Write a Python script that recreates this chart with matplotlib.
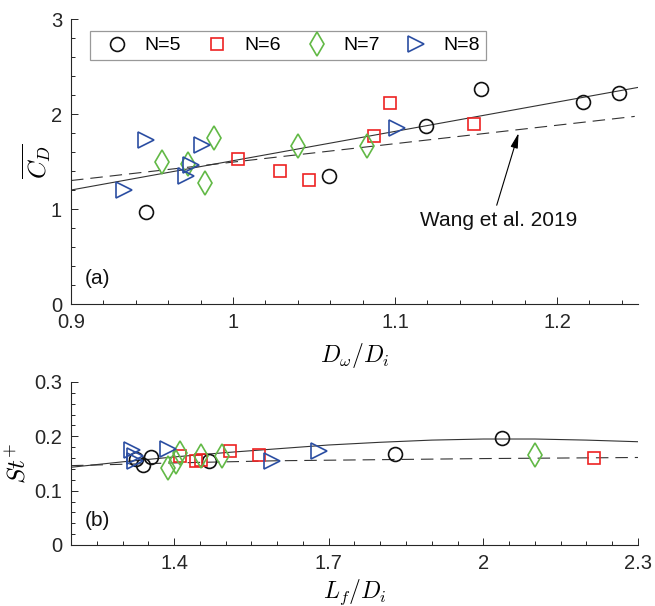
import matplotlib
matplotlib.use('Agg')
import matplotlib.pyplot as plt
from matplotlib import ticker

plt.rcParams['font.family'] = ['Liberation Sans', 'DejaVu Sans']
plt.rcParams['mathtext.fontset'] = 'cm'
plt.rcParams['lines.scale_dashes'] = False

## data, panel (a): D_w/D_i vs mean C_D
dw_n5 = [0.946, 1.059, 1.119, 1.153, 1.216, 1.238]
cd_n5 = [0.965, 1.347, 1.870, 2.263, 2.124, 2.219]
dw_n6 = [1.003, 1.029, 1.047, 1.087, 1.097, 1.149]
cd_n6 = [1.524, 1.396, 1.309, 1.764, 2.120, 1.895]
dw_n7 = [0.956, 0.972, 0.983, 0.988, 1.040, 1.083]
cd_n7 = [1.491, 1.475, 1.272, 1.745, 1.660, 1.665]
dw_n8 = [0.933, 0.946, 0.971, 0.974, 0.981, 1.101]
cd_n8 = [1.196, 1.726, 1.349, 1.460, 1.678, 1.853]

fit_a_x = [0.9, 1.25]
fit_a_y = [1.20, 2.28]
wang_a_x = [0.9, 1.248]
wang_a_y = [1.30, 1.975]

## data, panel (b): L_f/D_i vs St+
lf_n5 = [1.326, 1.340, 1.356, 1.468, 1.828, 2.037]
st_n5 = [0.158, 0.147, 0.162, 0.155, 0.168, 0.197]
lf_n6 = [1.412, 1.443, 1.452, 1.508, 1.564, 2.214]
st_n6 = [0.164, 0.155, 0.156, 0.173, 0.165, 0.160]
lf_n7 = [1.388, 1.404, 1.412, 1.453, 1.492, 2.101]
st_n7 = [0.141, 0.152, 0.170, 0.164, 0.163, 0.165]
lf_n8 = [1.319, 1.324, 1.325, 1.389, 1.590, 1.682]
st_n8 = [0.175, 0.163, 0.154, 0.177, 0.154, 0.173]

fit_b_x = [1.2, 1.3, 1.4, 1.5, 1.6, 1.7, 1.8, 1.9, 2.0, 2.1, 2.2, 2.3]
fit_b_y = [0.143, 0.153, 0.162, 0.170, 0.177, 0.184, 0.189, 0.193, 0.195, 0.195, 0.193, 0.190]
wang_b_x = [1.2, 1.4, 1.6, 1.8, 2.0, 2.3]
wang_b_y = [0.146, 0.151, 0.155, 0.157, 0.159, 0.161]

labels = ['N=5', 'N=6', 'N=7', 'N=8']
colors = ['#111111', '#ee2222', '#62b946', '#2b4ea2']
markers = ['o', 's', 'd', '>']
msizes = [10, 8, 12, 11]

axcol = '#262626'


def style_axis(ax):
    for s in ['top', 'right']:
        ax.spines[s].set_visible(False)
    for s in ['left', 'bottom']:
        ax.spines[s].set_color(axcol)
        ax.spines[s].set_linewidth(0.8)
    ax.tick_params(which='both', direction='in', colors=axcol, labelsize=14.5, width=0.7, pad=6.5)
    ax.tick_params(which='major', length=5)
    ax.tick_params(which='minor', length=3)
    ax.xaxis.set_major_formatter(ticker.FormatStrFormatter('%g'))
    ax.yaxis.set_major_formatter(ticker.FormatStrFormatter('%g'))


fig = plt.figure(figsize=(6.55, 6.06), dpi=100)
ax1 = fig.add_axes([0.1084, 0.4983, 0.8656, 0.4703])
ax2 = fig.add_axes([0.1084, 0.1007, 0.8656, 0.2690])

# panel (a)
ax1.plot(fit_a_x, fit_a_y, '-', color='#333333', lw=0.8)
ax1.plot(wang_a_x, wang_a_y, color='#333333', lw=0.8, dashes=(9, 5))
sets_a = [(dw_n5, cd_n5), (dw_n6, cd_n6), (dw_n7, cd_n7), (dw_n8, cd_n8)]
for (x, y), lab, c, m, ms in zip(sets_a, labels, colors, markers, msizes):
    ax1.plot(x, y, ls='none', marker=m, ms=ms, mfc='none', mec=c, mew=1.2, label=lab)

ax1.annotate('', xy=(1.1763, 1.80), xytext=(1.1628, 1.04),
             arrowprops=dict(arrowstyle='-|>,head_length=0.9,head_width=0.22',
                             color='k', lw=0.8, shrinkA=0, shrinkB=0))
ax1.text(1.164, 0.88, 'Wang et al. 2019', ha='center', va='center', fontsize=15, color='#111111')
ax1.text(0.024, 0.09, '(a)', transform=ax1.transAxes, fontsize=15, color='#111111', va='center')

ax1.set_xlim(0.9, 1.25)
ax1.set_ylim(0, 3)
ax1.set_xticks([0.9, 1.0, 1.1, 1.2])
ax1.set_yticks([0, 1, 2, 3])
ax1.xaxis.set_minor_locator(ticker.MultipleLocator(0.02))
ax1.yaxis.set_minor_locator(ticker.MultipleLocator(0.2))
style_axis(ax1)
ax1.set_xlabel(r'$D_\omega/D_i$', fontsize=17)
ax1.set_ylabel(r'$\overline{C_D}$', fontsize=18)
ax1.xaxis.set_label_coords(0.5, -0.13)
ax1.yaxis.set_label_coords(-0.03, 0.5)

leg = ax1.legend(loc='upper left', bbox_to_anchor=(0.0335, 0.958), ncol=4, fontsize=14,
                 frameon=True, fancybox=False, handlelength=2.2, handletextpad=0.3,
                 columnspacing=0.75, borderaxespad=0, borderpad=0.3)
leg.get_frame().set_edgecolor('#808080')
leg.get_frame().set_linewidth(0.9)

# panel (b)
ax2.plot(fit_b_x, fit_b_y, '-', color='#333333', lw=0.8)
ax2.plot(wang_b_x, wang_b_y, color='#333333', lw=0.8, dashes=(9, 5))
sets_b = [(lf_n5, st_n5), (lf_n6, st_n6), (lf_n7, st_n7), (lf_n8, st_n8)]
for (x, y), c, m, ms in zip(sets_b, colors, markers, msizes):
    ax2.plot(x, y, ls='none', marker=m, ms=ms, mfc='none', mec=c, mew=1.2)

ax2.text(0.024, 0.15, '(b)', transform=ax2.transAxes, fontsize=15, color='#111111', va='center')
ax2.set_xlim(1.2, 2.3)
ax2.set_ylim(0, 0.3)
ax2.set_xticks([1.4, 1.7, 2.0, 2.3])
ax2.set_yticks([0, 0.1, 0.2, 0.3])
ax2.xaxis.set_minor_locator(ticker.MultipleLocator(0.05))
ax2.yaxis.set_minor_locator(ticker.MultipleLocator(0.02))
style_axis(ax2)
ax2.set_xlabel(r'$L_f/D_i$', fontsize=17)
ax2.set_ylabel(r'$St^{+}$', fontsize=18)
ax2.xaxis.set_label_coords(0.5, -0.2)
ax2.yaxis.set_label_coords(-0.072, 0.5)

plt.savefig('out.png', dpi=100)
plt.close('all')
